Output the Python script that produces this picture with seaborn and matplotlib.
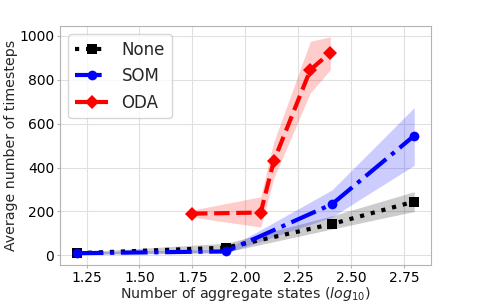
import matplotlib
matplotlib.use('Agg')
import matplotlib.pyplot as plt
import numpy as np
import pandas as pd
import seaborn as sns

# x positions are log10 of the number of aggregate states
grid_x = [1.204, 1.908, 2.408, 2.796]

none_y = [10, 35, 143, 245]
none_lo = [5, 15, 120, 200]
none_hi = [15, 55, 180, 290]

som_y = [10, 18, 233, 545]
som_lo = [5, 10, 175, 410]
som_hi = [15, 28, 298, 673]

oda_x = [1.748, 2.072, 2.133, 2.306, 2.400]
oda_y = [190, 195, 428, 845, 923]
oda_lo = [174, 129, 350, 740, 845]
oda_hi = [206, 267, 515, 975, 995]

sns.set_style("whitegrid", {
    "axes.edgecolor": "0.7",
    "grid.color": "0.88",
    "xtick.bottom": True,
    "ytick.left": True,
    "xtick.color": "0.7",
    "ytick.color": "0.7",
})
plt.rcParams['font.family'] = ['DejaVu Sans']

fig, ax = plt.subplots(figsize=(4.79, 3.02), dpi=100)
fig.subplots_adjust(left=0.125, right=0.9, top=0.914, bottom=0.122)

series = [
    ("None", grid_x, none_y, none_lo, none_hi, "black", ":", "s"),
    ("SOM", grid_x, som_y, som_lo, som_hi, "blue", "-.", "o"),
    ("ODA", oda_x, oda_y, oda_lo, oda_hi, "red", "--", "D"),
]

for name, xs, ys, lo, hi, col, ls, mk in series:
    df = pd.DataFrame({"x": xs, "y": ys})
    sns.lineplot(data=df, x="x", y="y", ax=ax, color=col, linestyle=ls,
                 linewidth=3, marker=mk, markersize=7, markeredgewidth=0,
                 label=name)
    ax.fill_between(xs, lo, hi, color=col, alpha=0.2, linewidth=0)

ax.set_xticks([1.25, 1.50, 1.75, 2.00, 2.25, 2.50, 2.75])
ax.set_yticks([0, 200, 400, 600, 800, 1000])
ax.tick_params(axis='both', labelsize=10, labelcolor='black', length=2.5,
               width=0.8, pad=1.5)
ax.set_xlabel("Number of aggregate states ($log_{10}$)", fontsize=10.2, labelpad=0)
ax.set_ylabel("Average number of timesteps", fontsize=10.2, labelpad=1)

ax.legend(loc='upper left', fontsize=12, frameon=True)

fig.savefig("out.png", dpi=100)
